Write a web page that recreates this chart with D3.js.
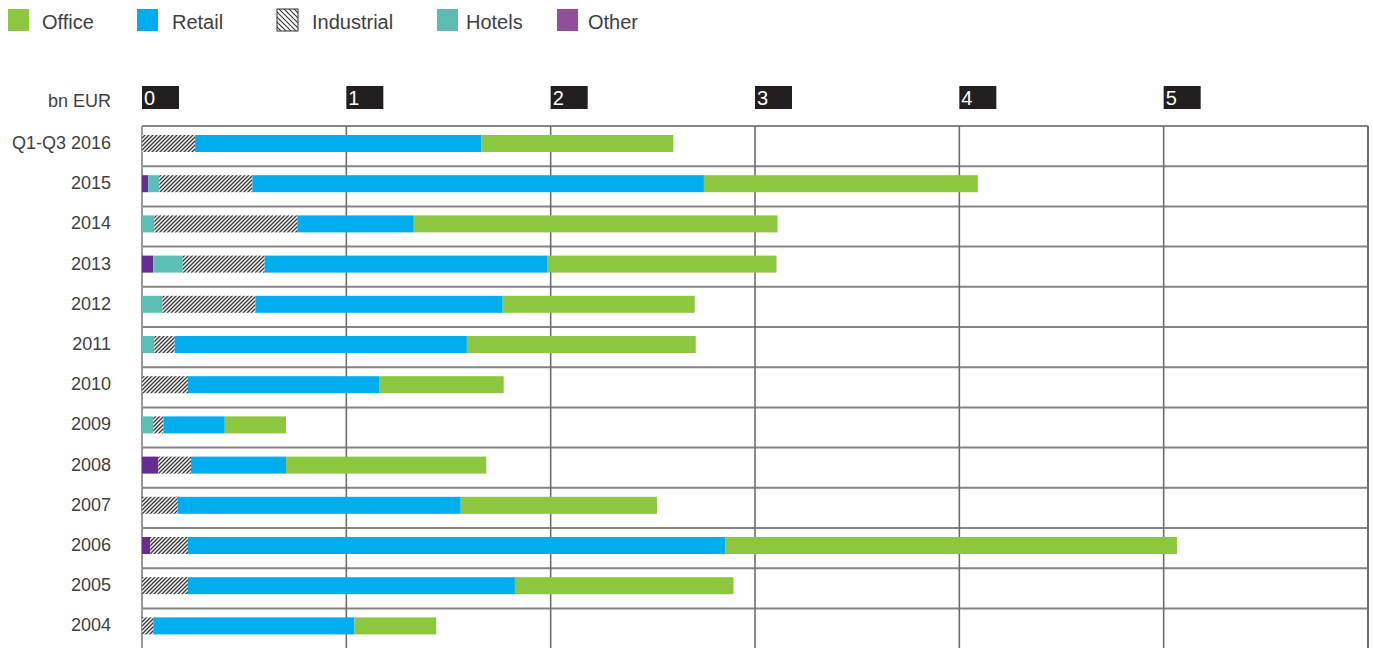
<!DOCTYPE html>
<html>
<head>
<meta charset="utf-8">
<script src="https://cdn.jsdelivr.net/npm/d3@7"></script>
<style>
  html, body { margin: 0; padding: 0; background: #fff; }
  svg { display: block; }
  text { font-family: "Helvetica Neue", "Liberation Sans", Arial, sans-serif; }
</style>
</head>
<body>
<svg id="chart" width="1373" height="648"></svg>
<script>
// Investment volume by sector, bn EUR
const categories = ["Q1-Q3 2016", "2015", "2014", "2013", "2012", "2011", "2010",
                    "2009", "2008", "2007", "2006", "2005", "2004"];
const sectors = ["Other", "Hotels", "Industrial", "Retail", "Office"];
const other      = [0,    0.03,  0,    0.055, 0,    0,    0,     0,     0.08,  0,     0.04,  0,     0];
const hotels     = [0,    0.055, 0.06, 0.145, 0.10, 0.06, 0,     0.055, 0,     0,     0,     0,     0];
const industrial = [0.26, 0.455, 0.70, 0.40,  0.455,0.10, 0.225, 0.05,  0.16,  0.175, 0.185, 0.225, 0.055];
const retail     = [1.40, 2.21,  0.57, 1.385, 1.21, 1.43, 0.935, 0.30,  0.465, 1.385, 2.63,  1.60,  0.985];
const office     = [0.94, 1.34,  1.78, 1.12,  0.94, 1.12, 0.61,  0.30,  0.98,  0.96,  2.21,  1.07,  0.40];
const tickValues = [0, 1, 2, 3, 4, 5, 6];
const tickLabels = ["0", "1", "2", "3", "4", "5", ""];
const legendOrder = ["Office", "Retail", "Industrial", "Hotels", "Other"];

const barColors = { Office: "#8dc63f", Retail: "#00aeef", Hotels: "#5bbfb5", Other: "#662d91" };
const legendColors = { Office: "#8dc63f", Retail: "#00aeef", Hotels: "#5fbcb3", Other: "#904f9a" };

const table = categories.map((c, i) => ({
  category: c, Other: other[i], Hotels: hotels[i], Industrial: industrial[i],
  Retail: retail[i], Office: office[i]
}));

const svg = d3.select("#chart");
const defs = svg.append("defs");
const textColor = "#404040";

// Hatch fill for industrial bars ("/" stripes)
const hatch = defs.append("pattern")
  .attr("id", "hatch").attr("patternUnits", "userSpaceOnUse")
  .attr("width", 4).attr("height", 4);
hatch.append("rect").attr("width", 4).attr("height", 4).attr("fill", "#f4f4f4");
hatch.append("path").attr("d", "M-1,1 l2,-2 M0,4 l4,-4 M3,5 l2,-2")
  .attr("stroke", "#3a3a3a").attr("stroke-width", 1.3);

// Legend hatch ("\" stripes)
const hatchL = defs.append("pattern")
  .attr("id", "hatchLegend").attr("patternUnits", "userSpaceOnUse")
  .attr("width", 5).attr("height", 5);
hatchL.append("rect").attr("width", 5).attr("height", 5).attr("fill", "#fff");
hatchL.append("path").attr("d", "M-1,4 l2,2 M0,0 l5,5 M4,-1 l2,2")
  .attr("stroke", "#333").attr("stroke-width", 1.1);

const fillFor = s => s === "Industrial" ? "url(#hatch)" : barColors[s];

const plotLeft = 142, plotRight = 1368, plotTop = 126;
const x = d3.scaleLinear().domain([0, 6]).range([plotLeft, plotRight]);
const y = d3.scaleBand().domain(categories)
  .range([plotTop, plotTop + 40.2 * categories.length]).padding(0);

// Legend
const swatchX = [8, 137, 277, 437, 557];
const labelX = [42, 172, 312, 466, 588];
const legend = svg.append("g");
legendOrder.forEach((name, i) => {
  legend.append("rect").attr("x", swatchX[i]).attr("y", 9)
    .attr("width", 21).attr("height", 22)
    .attr("fill", name === "Industrial" ? "url(#hatchLegend)" : legendColors[name])
    .attr("stroke", name === "Industrial" ? "#333" : "none")
    .attr("stroke-width", 1);
  legend.append("text").attr("x", labelX[i]).attr("y", 28.5)
    .attr("font-size", 20).attr("fill", textColor).text(name);
});

// Horizontal separators
svg.append("g").selectAll("line").data(categories).join("line")
  .attr("x1", plotLeft).attr("x2", plotRight)
  .attr("y1", d => y(d)).attr("y2", d => y(d))
  .attr("stroke", "#858585").attr("stroke-width", 2);

// Vertical grid lines
svg.append("g").selectAll("line").data(tickValues).join("line")
  .attr("x1", d => x(d)).attr("x2", d => x(d))
  .attr("y1", plotTop).attr("y2", 648)
  .attr("stroke", d => d === 0 ? "#9a9a9a" : "#6e6e6e")
  .attr("stroke-width", d => d === 0 || d === 6 ? 2 : 1.6);

// Top axis: value labels in dark boxes
const shownTicks = tickValues.filter((d, i) => tickLabels[i] !== "");
const axis = svg.append("g");
axis.selectAll("rect").data(shownTicks).join("rect")
  .attr("x", d => x(d)).attr("y", 86).attr("width", 37).attr("height", 23)
  .attr("fill", "#231f20");
axis.selectAll("text").data(shownTicks).join("text")
  .attr("x", d => x(d) + 2).attr("y", 105)
  .attr("font-size", 20).attr("fill", "#fff")
  .text(d => tickLabels[tickValues.indexOf(d)]);

svg.append("text").attr("x", 111).attr("y", 107).attr("text-anchor", "end")
  .attr("font-size", 18).attr("fill", textColor).text("bn EUR");

// Category labels
svg.append("g").selectAll("text").data(categories).join("text")
  .attr("x", 111).attr("y", d => y(d) + 9 + 8.5 + 5.5)
  .attr("text-anchor", "end").attr("font-size", 18).attr("fill", textColor)
  .text(d => d);

// Stacked bars
const stack = d3.stack().keys(sectors)(table);
svg.append("g").selectAll("g").data(stack).join("g")
  .attr("fill", s => fillFor(s.key))
  .selectAll("rect").data(s => s.filter(d => d[1] - d[0] > 0)).join("rect")
  .attr("x", d => x(d[0]))
  .attr("width", d => x(d[1]) - x(d[0]))
  .attr("y", d => y(d.data.category) + 9)
  .attr("height", 17);
</script>
</body>
</html>
